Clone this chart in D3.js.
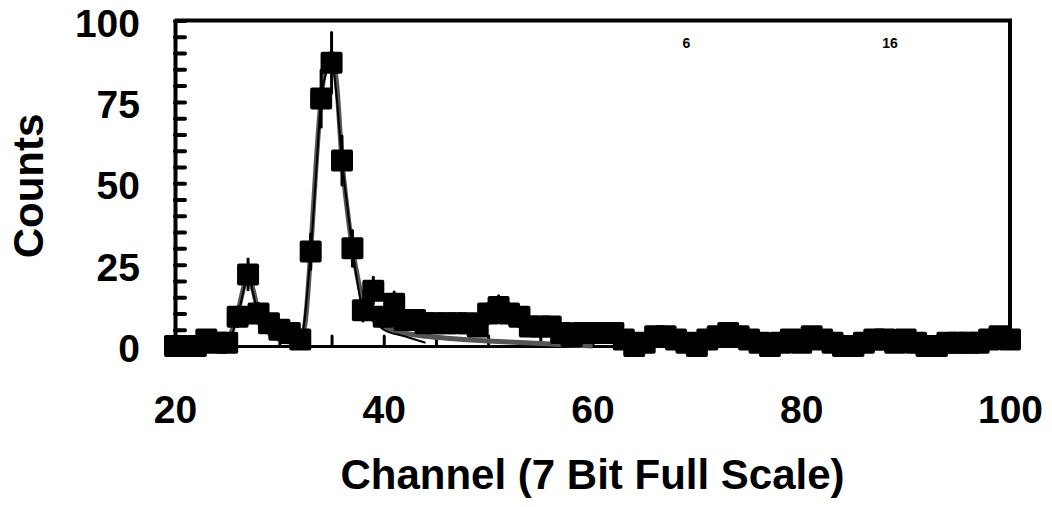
<!DOCTYPE html>
<html>
<head>
<meta charset="utf-8">
<script src="https://cdn.jsdelivr.net/npm/d3@7"></script>
<style>
  html, body { margin: 0; padding: 0; background: #fff; }
  svg { display: block; }
  text { font-family: "Liberation Sans", Arial, sans-serif; font-weight: bold; fill: #000; }
</style>
</head>
<body>
<svg id="chart" width="1052" height="507"></svg>
<script>
// Pulse-height spectrum: counts per channel
const channels = d3.range(20, 101);
const counts = [
  0, 0, 0, 2, 1, 1, 9, 22, 10, 7,      // 20-29
  5, 4, 2, 29, 76, 87, 57, 30, 11, 17,  // 30-39
  9, 13, 8, 8, 7, 7, 7, 7, 7, 6,        // 40-49
  10, 12, 10, 9, 6, 6, 6, 4, 3, 4,      // 50-59
  4, 4, 4, 2, 0, 1, 3, 3, 2, 1,         // 60-69
  0, 2, 3, 4, 3, 2, 1, 0, 1, 2,         // 70-79
  1, 3, 2, 1, 0, 0, 1, 2, 2, 1,         // 80-89
  2, 1, 0, 0, 1, 1, 1, 1, 2, 3,         // 90-99
  2                                      // 100
];

// Fitted peak shape (grey) and its companion trace (black)
const fitX = [24, 25, 25.5, 26, 26.5, 27, 27.5, 28, 28.5, 29, 30, 31, 32, 32.5, 33, 33.5, 34, 34.5, 35, 35.5, 36, 36.5, 37, 37.5, 38, 38.5, 39, 40, 42, 44, 46, 48, 50, 52, 54, 56, 58, 60];
const fitY = [0.5, 2, 5, 10, 17, 22, 17, 10, 6, 4, 2, 1.2, 1.5, 8, 29, 55, 76, 87, 90, 80, 57, 42, 30, 21, 14, 10, 8, 6, 4, 3, 2.4, 1.9, 1.5, 1.2, 0.9, 0.6, 0.3, 0];
const traceX = [25, 26, 26.5, 27, 27.5, 28, 29, 30, 31, 32, 33, 33.5, 34, 34.5, 35, 35.5, 36, 36.5, 37, 37.5, 38, 39, 40, 42, 44];
const traceY = [0, 9, 16, 22, 16, 10, 7, 5, 4, 2, 29, 52, 76, 84, 88, 76, 57, 43, 30, 19, 11, 8, 5, 3, 1];

// Small annotations along the top edge
const notes = [{ x: 69, text: "6" }, { x: 88.5, text: "16" }];

const xTickLabels = [20, 40, 60, 80, 100];
const yTickLabels = [0, 25, 50, 75, 100];

const svg = d3.select("#chart");
const x = d3.scaleLinear().domain([20, 100]).range([175, 1010]);
const y = d3.scaleLinear().domain([0, 100]).range([346, 20.5]);

// Plot frame: top and right edges
svg.append("line")
  .attr("x1", x(20)).attr("x2", x(100) + 2)
  .attr("y1", y(100)).attr("y2", y(100))
  .attr("stroke", "#000").attr("stroke-width", 4);
svg.append("line")
  .attr("x1", x(100)).attr("x2", x(100))
  .attr("y1", y(100)).attr("y2", y(0))
  .attr("stroke", "#000").attr("stroke-width", 4);

// Left axis with inward minor ticks every 5 counts
const yAxis = svg.append("g")
  .attr("transform", `translate(${x(20)},0)`)
  .call(d3.axisRight(y).tickValues(d3.range(0, 101, 5)).tickSize(10).tickSizeOuter(0).tickFormat(""));
yAxis.select(".domain").attr("stroke-width", 4);
yAxis.selectAll(".tick line").attr("stroke-width", 4).attr("stroke-linecap", "round");

// Bottom axis with inward ticks every 5 channels
const xAxis = svg.append("g")
  .attr("transform", `translate(0,${y(0)})`)
  .call(d3.axisTop(x).tickValues(d3.range(20, 101, 5)).tickSize(10).tickSizeOuter(0).tickFormat(""));
xAxis.select(".domain").attr("stroke-width", 3);
xAxis.selectAll(".tick line").attr("stroke-width", 3).attr("stroke-linecap", "round");

// Tick labels
const yLabels = svg.append("g")
  .attr("transform", `translate(${x(20)},0)`)
  .call(d3.axisLeft(y).tickValues(yTickLabels).tickSize(0).tickPadding(35));
yLabels.select(".domain").remove();
yLabels.selectAll("text").style("font-size", "39px").attr("dy", "0.4em");

const xLabels = svg.append("g")
  .attr("transform", `translate(0,${y(0)})`)
  .call(d3.axisBottom(x).tickValues(xTickLabels).tickSize(0).tickPadding(0));
xLabels.select(".domain").remove();
xLabels.selectAll("text").style("font-size", "39px").attr("y", 77).attr("dy", null);

// Axis titles
svg.append("text")
  .attr("transform", `translate(43,186) rotate(-90)`)
  .attr("text-anchor", "middle")
  .style("font-size", "42px")
  .text("Counts");
svg.append("text")
  .attr("x", (x(20) + x(100)) / 2).attr("y", 489)
  .attr("text-anchor", "middle")
  .style("font-size", "42px")
  .text("Channel (7 Bit Full Scale)");

// Annotations
svg.selectAll(".note").data(notes).join("text")
  .attr("class", "note")
  .attr("x", d => x(d.x)).attr("y", 48)
  .attr("text-anchor", "middle")
  .style("font-size", "14px")
  .text(d => d.text);

// Fit curves
const fitLine = d3.line().x(d => x(d[0])).y(d => y(d[1])).curve(d3.curveMonotoneX);
svg.append("path")
  .datum(d3.zip(fitX, fitY))
  .attr("d", fitLine)
  .attr("fill", "none").attr("stroke", "#555").attr("stroke-width", 5);
svg.append("path")
  .datum(d3.zip(traceX, traceY))
  .attr("d", fitLine)
  .attr("fill", "none").attr("stroke", "#000").attr("stroke-width", 2);

const data = channels.map((c, i) => ({ c, v: counts[i] }));

// Statistical error bars (±√N)
svg.selectAll(".err").data(data.filter(d => d.v > 0)).join("line")
  .attr("class", "err")
  .attr("x1", d => x(d.c)).attr("x2", d => x(d.c))
  .attr("y1", d => y(d.v + Math.sqrt(d.v))).attr("y2", d => y(Math.max(0, d.v - Math.sqrt(d.v))))
  .attr("stroke", "#000").attr("stroke-width", 3).attr("stroke-linecap", "round");

// Square markers
const ms = 22;
svg.selectAll(".pt").data(data).join("rect")
  .attr("class", "pt")
  .attr("x", d => x(d.c) - ms / 2).attr("y", d => y(d.v) - ms / 2)
  .attr("width", ms).attr("height", ms)
  .attr("rx", 2)
  .attr("fill", "#000");
</script>
</body>
</html>
